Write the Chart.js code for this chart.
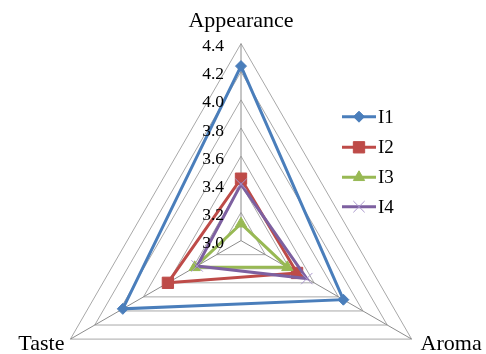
<!DOCTYPE html>
<html>
<head>
<meta charset="utf-8">
<script src="https://cdn.jsdelivr.net/npm/chart.js@4/dist/chart.umd.min.js"></script>
<style>
  html, body { margin: 0; padding: 0; background: #fff; }
  #wrap { width: 486px; height: 354px; position: relative; }
</style>
</head>
<body>
<div id="wrap"><canvas id="c" width="486" height="354"></canvas></div>
<script>
const categories = ['Appearance', 'Aroma', 'Taste'];
const seriesNames = ['I1', 'I2', 'I3', 'I4'];
const I1 = [4.24, 3.84, 3.97];
const I2 = [3.44, 3.46, 3.60];
const I3 = [3.12, 3.38, 3.38];
const I4 = [3.40, 3.54, 3.36];
const tickLabels = ['3.0', '3.2', '3.4', '3.6', '3.8', '4.0', '4.2', '4.4'];

const SERIF = "'Liberation Serif', 'DejaVu Serif', serif";
const styles = [
  { color: '#4A7EBB', point: 'rectRot', r: 5.5, bg: '#4A7EBB', pb: '#4A7EBB', pw: 1 },
  { color: '#BE4B48', point: 'rect', r: 8, bg: '#BE4B48', pb: '#BE4B48', pw: 1 },
  { color: '#98B954', point: 'triangle', r: 6.5, bg: '#98B954', pb: '#98B954', pw: 1 },
  { color: '#7D60A0', point: 'crossRot', r: 8, bg: '#7D60A0', pb: '#A996CC', pw: 1 }
];
const allSeries = [I1, I2, I3, I4];

const datasets = allSeries.map((d, i) => ({
  label: seriesNames[i],
  data: d,
  borderColor: styles[i].color,
  backgroundColor: styles[i].color,
  borderWidth: 3,
  fill: false,
  tension: 0,
  pointStyle: styles[i].point,
  pointRadius: styles[i].r,
  pointHoverRadius: styles[i].r,
  pointBackgroundColor: styles[i].bg,
  pointBorderColor: styles[i].pb,
  pointBorderWidth: styles[i].pw,
  order: 3 - i
}));

const labelPlugin = {
  id: 'labelPlugin',
  afterDraw(chart) {
    const ctx = chart.ctx;
    const s = chart.scales.r;
    ctx.save();
    ctx.fillStyle = '#000';
    // tick labels
    ctx.font = '17.5px ' + SERIF;
    ctx.textAlign = 'right';
    ctx.textBaseline = 'middle';
    tickLabels.forEach(t => {
      const d = s.getDistanceFromCenterForValue(parseFloat(t));
      ctx.fillText(t, s.xCenter - 17, s.yCenter - d + 3);
    });
    // category labels
    ctx.font = '22px ' + SERIF;
    const p0 = s.getPointPosition(0, s.drawingArea);
    ctx.textAlign = 'center';
    ctx.fillText(categories[0], p0.x, p0.y - 22);
    const p1 = s.getPointPosition(1, s.drawingArea);
    ctx.textAlign = 'left';
    ctx.fillText(categories[1], p1.x + 9, p1.y + 5);
    const p2 = s.getPointPosition(2, s.drawingArea);
    ctx.textAlign = 'right';
    ctx.fillText(categories[2], p2.x - 6, p2.y + 5);
    // legend
    const ys = [116.7, 147.3, 177.3, 206.7];
    ctx.font = '19px ' + SERIF;
    ctx.textAlign = 'left';
    seriesNames.forEach((n, i) => {
      const st = styles[i];
      const y = ys[i];
      ctx.strokeStyle = st.color;
      ctx.lineWidth = 3;
      ctx.beginPath();
      ctx.moveTo(342, y);
      ctx.lineTo(376, y);
      ctx.stroke();
      ctx.fillStyle = st.bg;
      ctx.strokeStyle = st.pb;
      ctx.lineWidth = st.pw;
      Chart.helpers.drawPoint(ctx, { pointStyle: st.point, radius: st.r, rotation: 0, borderWidth: st.pw }, 359, y);
      ctx.fillStyle = '#000';
      ctx.fillText(n, 378, y + 1);
    });
    ctx.restore();
  }
};

new Chart(document.getElementById('c'), {
  type: 'radar',
  data: { labels: categories, datasets },
  options: {
    responsive: false,
    animation: false,
    events: [],
    layout: { padding: 0 },
    plugins: { legend: { display: false }, tooltip: { enabled: false } },
    elements: { line: { borderJoinStyle: 'miter' } },
    scales: {
      r: {
        min: 3.0,
        max: 4.4,
        ticks: { stepSize: 0.2, display: false, showLabelBackdrop: false },
        pointLabels: { display: false },
        grid: { color: '#A8A8A8', lineWidth: 1, circular: false },
        angleLines: { color: '#8C8C8C', lineWidth: 1 },
        afterFit(scale) {
          scale.xCenter = 241;
          scale.yCenter = 240.6;
          scale.drawingArea = 197;
        }
      }
    }
  },
  plugins: [labelPlugin]
});
</script>
</body>
</html>
